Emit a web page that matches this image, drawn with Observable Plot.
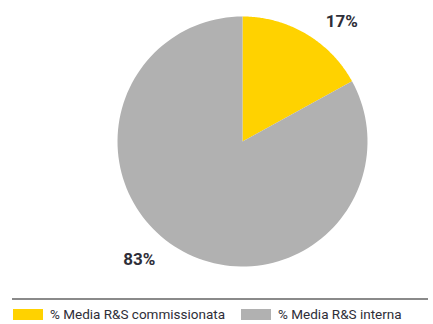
<!DOCTYPE html>
<html>
<head>
<meta charset="utf-8">
<script src="https://cdn.jsdelivr.net/npm/d3@7"></script>
<script src="https://cdn.jsdelivr.net/npm/@observablehq/plot@0.6"></script>
<style>
  html, body { margin: 0; padding: 0; background: #fff; overflow: hidden; }
  body { width: 433px; font-family: Roboto, "Noto Sans", sans-serif; color: #2e2e38; }
  #chart svg { display: block; }
  .rule { margin: 2px 5px 0 12px; height: 2px; background: #8a8a8a; }
  .legend { display: flex; align-items: center; margin: 7px 0 0 13px; font-size: 13.5px; line-height: 15px; }
  .legend .item { display: flex; align-items: center; margin-right: 16px; white-space: nowrap; }
  .legend .sw { width: 30px; height: 11px; margin-right: 7px; }
</style>
</head>
<body>
<div id="chart"></div>
<div class="rule"></div>
<div class="legend" id="legend"></div>
<script>
const categories = ["% Media R&S commissionata", "% Media R&S interna"];
const values = [17, 83];
const labels = ["17%", "83%"];
const colors = ["#FFD200", "#B1B1B1"];

const pie = d3.pie().sort(null).value(d => d.value);
const arcs = pie(categories.map((c, i) => ({key: c, value: values[i], label: labels[i]})));

const pts = [];
for (const a of arcs) {
  pts.push({key: a.data.key, x: 0, y: 0});
  const n = 120;
  for (let k = 0; k <= n; k++) {
    const t = a.startAngle + (a.endAngle - a.startAngle) * k / n;
    pts.push({key: a.data.key, x: Math.sin(t), y: Math.cos(t)});
  }
}
const lab = arcs.map(a => {
  const m = (a.startAngle + a.endAngle) / 2;
  return {label: a.data.label, x: 1.12 * Math.sin(m), y: 1.12 * Math.cos(m), side: Math.sin(m) >= 0 ? 1 : -1};
});

const chart = Plot.plot({
  width: 433,
  height: 296,
  marginLeft: 117,
  marginRight: 66,
  marginTop: 16,
  marginBottom: 30,
  x: {domain: [-1, 1], axis: null},
  y: {domain: [-1, 1], axis: null},
  color: {domain: categories, range: colors},
  marks: [
    Plot.line(pts, {x: "x", y: "y", z: "key", fill: "key", stroke: "none", curve: "linear"}),
    Plot.text(lab.filter(d => d.side > 0), {x: "x", y: "y", text: "label", dx: 28, dy: 1, fontSize: 17, fontWeight: "bold", fill: "#2e2e38"}),
    Plot.text(lab.filter(d => d.side < 0), {x: "x", y: "y", text: "label", dx: -32, dy: -2, fontSize: 17, fontWeight: "bold", fill: "#2e2e38"})
  ],
  style: {fontFamily: "Roboto, 'Noto Sans', sans-serif", background: "#fff"}
});
document.getElementById("chart").appendChild(chart);

const leg = document.getElementById("legend");
categories.forEach((c, i) => {
  const it = document.createElement("div");
  it.className = "item";
  const sw = document.createElement("span");
  sw.className = "sw";
  sw.style.background = colors[i];
  const tx = document.createElement("span");
  tx.textContent = c;
  it.appendChild(sw); it.appendChild(tx);
  leg.appendChild(it);
});
</script>
</body>
</html>
